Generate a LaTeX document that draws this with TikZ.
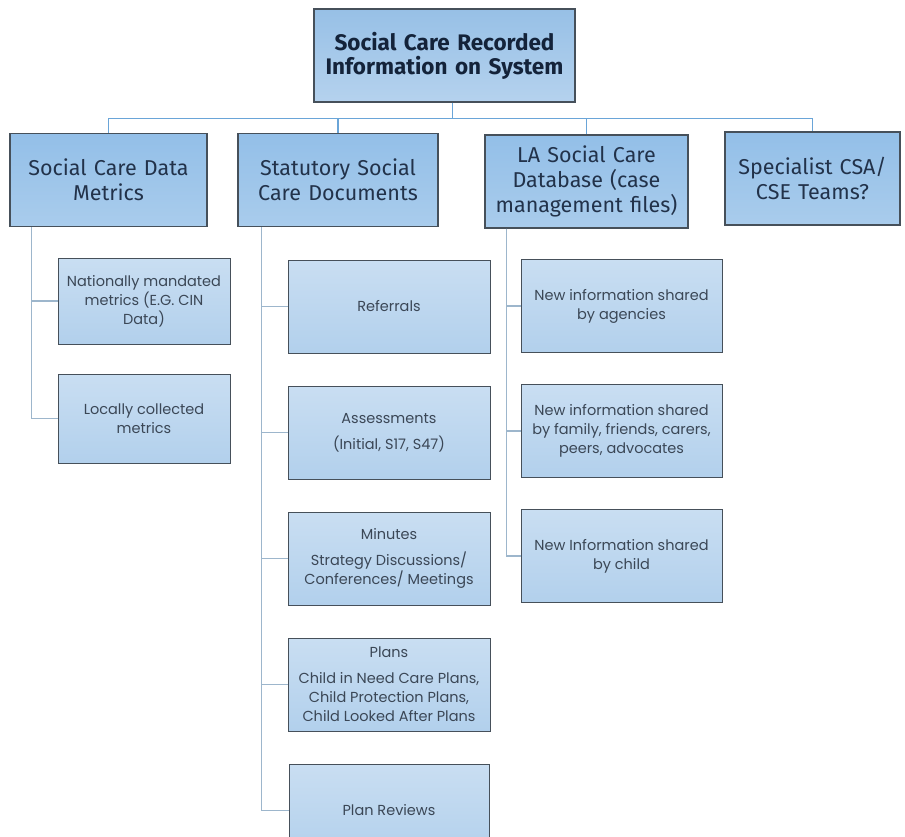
\documentclass[tikz,border=0pt]{standalone}
\usepackage{fontspec}
\setmainfont{Fira Sans}
\newfontfamily\leaffont{Poppins}
\usepackage{xcolor}
\usepackage{tikz}
\usetikzlibrary{positioning}

\definecolor{boxline}{HTML}{46505A}
\definecolor{buscol}{HTML}{6AA5D8}
\definecolor{twigcol}{HTML}{9DB6CC}
\definecolor{toptext}{HTML}{14233A}
\definecolor{headtext}{HTML}{22324A}
\definecolor{leaftext}{HTML}{3B4756}
\definecolor{toptop}{HTML}{97C0E6}
\definecolor{topbot}{HTML}{B5D2EE}
\definecolor{headtop}{HTML}{93BFE8}
\definecolor{headbot}{HTML}{A9CCEC}
\definecolor{leaftop}{HTML}{C9DEF2}
\definecolor{leafbot}{HTML}{B2D0EC}

\tikzset{
  topbox/.style={draw=boxline, line width=1.1pt, top color=toptop, bottom color=topbot,
    minimum width=261pt, minimum height=93pt, inner sep=0pt, text width=255pt, align=center,
    font=\bfseries\fontsize{22.5}{24}\selectfont, text=toptext},
  headbox/.style={draw=boxline, line width=1.1pt, top color=headtop, bottom color=headbot,
    minimum height=93pt, inner sep=0pt, align=center,
    font=\fontsize{21.5}{25}\selectfont, text=headtext},
  leafbox/.style={draw=boxline, line width=1pt, top color=leaftop, bottom color=leafbot,
    minimum height=93pt, inner sep=0pt, align=center,
    font=\leaffont\fontsize{14.5}{19}\selectfont, text=leaftext},
  bus/.style={draw=buscol, line width=1.4pt},
  twig/.style={draw=twigcol, line width=1.2pt}
}

\begin{document}
\begin{tikzpicture}[x=1pt,y=-1pt]
    \useasboundingbox (0,0) rectangle (905,836);
    \clip (0,0) rectangle (905,836);

    % top of the tree
    \node[topbox] (top) at (444.5,55.5) {Social Care Recorded\\Information on System};

    % first level
    \node[headbox, minimum width=197pt, text width=195pt] (A) at (108.5,180) {Social Care Data\\Metrics};
    \node[headbox, minimum width=200pt, text width=198pt] (B) at (338,180) {Statutory Social\\Care Documents};
    \node[headbox, minimum width=203pt, text width=201pt] (C) at (586.5,181.5) {LA Social Care\\Database (case\\management files)};
    \node[headbox, minimum width=175pt, text width=173pt] (D) at (812.5,178.5) {Specialist CSA/\\CSE Teams?};

    % data metrics
    \node[leafbox, minimum width=172pt, minimum height=86pt] (A1) at (144,301) {Nationally mandated\\metrics (E.G. CIN\\Data)};
    \node[leafbox, minimum width=172pt, minimum height=89pt] (A2) [below=29pt of A1] {Locally collected\\metrics};

    % statutory documents
    \node[leafbox, minimum width=202pt] (B1) at (389,306.5) {Referrals};
    \node[leafbox, minimum width=202pt] (B2) [below=32pt of B1] {Assessments\\[7pt](Initial, S17, S47)};
    \node[leafbox, minimum width=202pt] (B3) [below=32pt of B2] {Minutes\\[7pt]Strategy Discussions/\\Conferences/ Meetings};
    \node[leafbox, minimum width=202pt] (B4) [below=32pt of B3] {Plans\\[7pt]Child in Need Care Plans,\\Child Protection Plans,\\Child Looked After Plans};
    \node[leafbox, minimum width=200pt] (B5) [below=32pt of B4] {Plan Reviews};

    % case management files
    \node[leafbox, minimum width=201pt] (C1) at (621.5,306) {New information shared\\by agencies};
    \node[leafbox, minimum width=201pt] (C2) [below=31pt of C1] {New information shared\\by family, friends, carers,\\peers, advocates};
    \node[leafbox, minimum width=201pt] (C3) [below=31pt of C2] {New Information shared\\by child};

    % connectors
    \draw[bus] ([xshift=8pt]top.south) -- ++(0,16) coordinate (hub);
    \foreach \n in {A,B,C,D}
        \draw[bus] (hub) -| (\n.north);

    \foreach \k in {1,2}
        \draw[twig] ([xshift=22pt]A.south west) |- (A\k.west);
    \foreach \k in {1,...,5}
        \draw[twig] ([xshift=24pt]B.south west) |- (B\k.west);
    \foreach \k in {1,2,3}
        \draw[twig] ([xshift=22pt]C.south west) |- (C\k.west);

\end{tikzpicture}
\end{document}
